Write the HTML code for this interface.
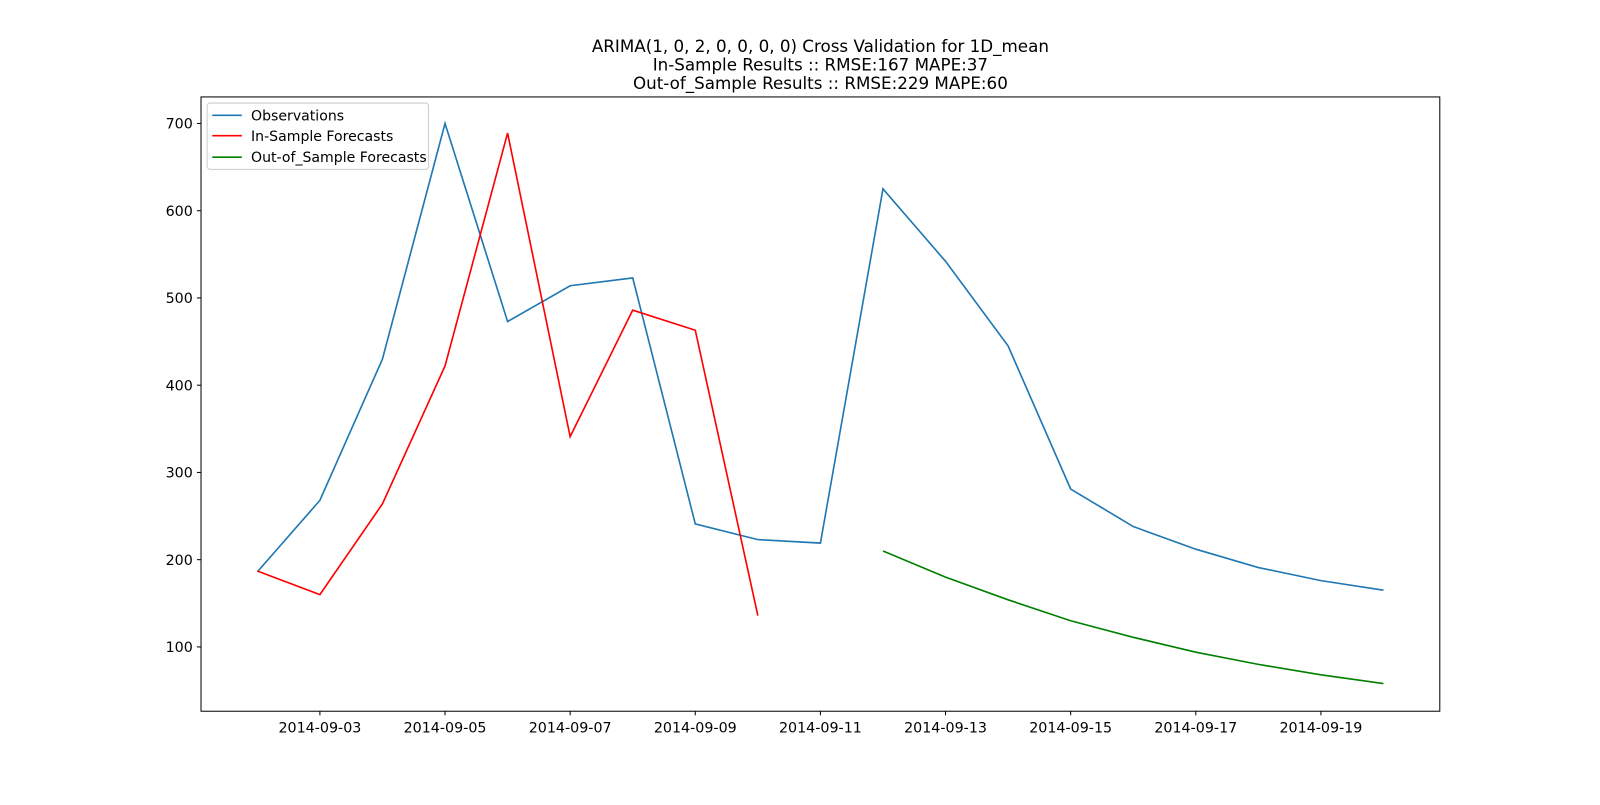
<!DOCTYPE html>
<html><head><meta charset="utf-8"><style>
body{margin:0;background:#fff;font-family:"Liberation Sans","DejaVu Sans",sans-serif;}
svg text{font-family:"DejaVu Sans","Liberation Sans",sans-serif;}
</style></head><body>
<svg id="chart" width="1600" height="800" xmlns="http://www.w3.org/2000/svg">
<rect width="1600" height="800" fill="#fff"/>
<g transform="scale(1.020408)">
<g font-size="16.4" text-anchor="middle" fill="#000">
<text x="804" y="51">ARIMA(1, 0, 2, 0, 0, 0, 0) Cross Validation for 1D_mean</text>
<text x="804" y="69">In-Sample Results :: RMSE:167 MAPE:37</text>
<text x="804" y="87">Out-of_Sample Results :: RMSE:229 MAPE:60</text>
</g>
<g id="plot"></g>
<rect x="197" y="95" width="1214" height="602" fill="none" stroke="#000" stroke-width="1"/>
<g>
<rect x="203" y="101" width="217" height="65" rx="3" fill="#fff" stroke="#ccc" fill-opacity="0.8"/>
<g><line x1="208" y1="113" x2="237" y2="113" stroke="#1f77b4" stroke-width="1.6"/><text x="246" y="118" font-size="13.8">Observations</text></g>
<g><line x1="208" y1="133" x2="237" y2="133" stroke="#ff0000" stroke-width="1.6"/><text x="246" y="138" font-size="13.8">In-Sample Forecasts</text></g>
<g><line x1="208" y1="154" x2="237" y2="154" stroke="#008000" stroke-width="1.6"/><text x="246" y="159" font-size="13.8">Out-of_Sample Forecasts</text></g>
</g>
</g>
</svg>
<script>
const obsDays=[0,1,2,3,4,5,6,7,8,9,10,11,12,13,14,15,16,17,18];
const obsValues=[186,268,430,700,473,514,523,241,223,219,625,542,445,281,238,212,191,176,165];
const inDays=[0,1,2,3,4,5,6,7,8];
const inValues=[187,160,264,422,689,341,486,463,136];
const outDays=[10,11,12,13,14,15,16,17,18];
const outValues=[210,180,154,130,111,94,80,68,58];
const xTickDays=[1,3,5,7,9,11,13,15,17];
const xTickLabels=["2014-09-03","2014-09-05","2014-09-07","2014-09-09","2014-09-11","2014-09-13","2014-09-15","2014-09-17","2014-09-19"];
const yTicks=[100,200,300,400,500,600,700];

const NS="http://www.w3.org/2000/svg";
const L=197,R=1411,T=95,B=697;
const xMin=-0.9,xMax=18.9,yMin=26.3,yMax=730.4;
const xs=d=>L+(d-xMin)/(xMax-xMin)*(R-L);
const ys=v=>B-(v-yMin)/(yMax-yMin)*(B-T);
const g=document.getElementById('plot');
function el(t,a){const e=document.createElementNS(NS,t);for(const k in a)e.setAttribute(k,a[k]);g.appendChild(e);return e;}
yTicks.forEach(v=>{
 const y=ys(v);
 const tk=el('line',{x1:L-4,x2:L,y1:y,y2:y,stroke:'#000'});
 
 
 const t=el('text',{x:L-8,y:y+5,'font-size':14,'text-anchor':'end'});t.textContent=v;
 
 
});
xTickDays.forEach((d,i)=>{
 const x=xs(d);
 const tk=el('line',{x1:x,x2:x,y1:B,y2:B+4,stroke:'#000'});
 
 
 const t=el('text',{x:x,y:B+21,'font-size':14,'text-anchor':'middle'});t.textContent=xTickLabels[i];
 
 
});
function line(days,vals,color,name){
 const p=el('polyline',{points:days.map((d,i)=>xs(d)+','+ys(vals[i])).join(' '),fill:'none',stroke:color,'stroke-width':1.6});
 
 
}
line(obsDays,obsValues,'#1f77b4','observations-line');
line(inDays,inValues,'#ff0000','in-sample-forecast-line');
line(outDays,outValues,'#008000','out-of-sample-forecast-line');
</script>
</body></html>
